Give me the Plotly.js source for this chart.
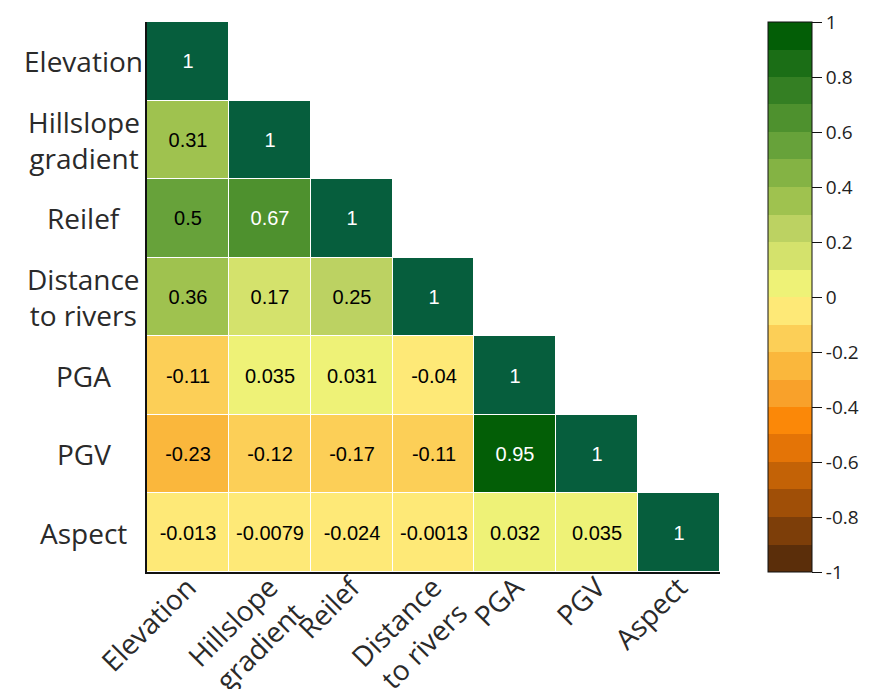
<!DOCTYPE html>
<html>
<head>
<meta charset="utf-8">
<script src="https://cdn.plot.ly/plotly-3.0.1.min.js"></script>
<style>
  html, body { margin: 0; padding: 0; background: #fff; }
  #chart { width: 872px; height: 689px; }
</style>
</head>
<body>
<div id="chart"></div>
<script>
// Factor names, shown top-to-bottom and left-to-right
const factors = ['Elevation', 'Hillslope gradient', 'Reilef', 'Distance to rivers', 'PGA', 'PGV', 'Aspect'];
const factorLabels = ['Elevation', 'Hillslope<br>gradient', 'Reilef', 'Distance<br>to rivers', 'PGA', 'PGV', 'Aspect'];

// Lower-triangle Pearson correlations, one row per factor
const rowElevation = [1];
const rowHillslope = [0.31, 1];
const rowRelief    = [0.5, 0.67, 1];
const rowDistance  = [0.36, 0.17, 0.25, 1];
const rowPGA       = [-0.11, 0.035, 0.031, -0.04, 1];
const rowPGV       = [-0.23, -0.12, -0.17, -0.11, 0.95, 1];
const rowAspect    = [-0.013, -0.0079, -0.024, -0.0013, 0.032, 0.035, 1];
const corrRows = [rowElevation, rowHillslope, rowRelief, rowDistance, rowPGA, rowPGV, rowAspect];

// Colorbar tick values
const cbTicks = [1, 0.8, 0.6, 0.4, 0.2, 0, -0.2, -0.4, -0.6, -0.8, -1];

// 20 stepped colours from -1 (brown) to +1 (dark green)
const stepColors = [
  '#5B2E0A', '#7D3E09', '#A04F07', '#C36206', '#E47406',
  '#FB8808', '#F9A12A', '#FAB73C', '#FCCF57', '#FEE977',
  '#EEF277', '#D4E26C', '#BCD262', '#9FC24F', '#84B344',
  '#67A23A', '#4E912E', '#347F23', '#1B6E16', '#035E06'
];
const diagColor = '#065E3D';

const n = factors.length;
const colorscale = [];
stepColors.forEach((c, i) => {
  colorscale.push([i / stepColors.length, c]);
  colorscale.push([(i + 1) / stepColors.length, c]);
});

// Pick white or black label text from the brightness of a cell's step colour
function labelFor(v) {
  const idx = Math.min(stepColors.length - 1, Math.floor((v + 1) / 2 * stepColors.length + 1e-9));
  const hex = stepColors[idx];
  const r = parseInt(hex.slice(1, 3), 16), g = parseInt(hex.slice(3, 5), 16), b = parseInt(hex.slice(5, 7), 16);
  const bright = (r * 299 + g * 587 + b * 114) / 1000;
  const s = String(v);
  return bright < 125 ? '<span style="fill:#ffffff">' + s + '</span>' : s;
}

// Split the matrix into off-diagonal and diagonal layers
const zOff = [], tOff = [], zDiag = [], tDiag = [];
for (let r = 0; r < n; r++) {
  const zo = [], to = [], zd = [], td = [];
  for (let c = 0; c < n; c++) {
    const v = c < corrRows[r].length ? corrRows[r][c] : null;
    if (c === r) {
      zo.push(null); to.push('');
      zd.push(v); td.push(String(v));
    } else {
      zo.push(v); to.push(v === null ? '' : labelFor(v));
      zd.push(null); td.push('');
    }
  }
  zOff.push(zo); tOff.push(to); zDiag.push(zd); tDiag.push(td);
}

const cellFont = { family: 'Liberation Sans, Arial, sans-serif', size: 20, color: '#000000' };
const labelFont = { family: 'Open Sans, sans-serif', size: 28, color: '#2a2a2a' };

const traces = [
  {
    type: 'heatmap',
    x: factors, y: factors, z: zOff,
    text: tOff, texttemplate: '%{text}', textfont: cellFont,
    zmin: -1, zmax: 1, colorscale: colorscale,
    xgap: 1, ygap: 1, hoverongaps: false,
    colorbar: {
      x: 1.0838, xanchor: 'left', xpad: 0,
      y: 0, yanchor: 'bottom', yref: 'paper', len: 1, lenmode: 'fraction', ypad: 0,
      thickness: 44, outlinecolor: '#111', outlinewidth: 1,
      tickmode: 'array', tickvals: cbTicks, ticktext: cbTicks.map(String),
      ticks: 'outside', ticklen: 10, tickwidth: 1, tickcolor: '#111',
      tickfont: { family: 'Open Sans, sans-serif', size: 19, color: '#222' }
    }
  },
  {
    type: 'heatmap',
    x: factors, y: factors, z: zDiag,
    text: tDiag, texttemplate: '%{text}',
    textfont: Object.assign({}, cellFont, { color: '#ffffff' }),
    zmin: 0, zmax: 1, colorscale: [[0, diagColor], [1, diagColor]],
    showscale: false, xgap: 1, ygap: 1, hoverongaps: false
  }
];

const annotations = factors.map((f, i) => ({
  xref: 'paper', yref: 'y', x: -0.11, y: f,
  text: factorLabels[i], showarrow: false,
  xanchor: 'center', yanchor: 'middle', align: 'center',
  font: labelFont
}));

const layout = {
  width: 872, height: 689,
  margin: { l: 147, r: 152, t: 22, b: 117 },
  paper_bgcolor: '#ffffff', plot_bgcolor: '#ffffff',
  xaxis: {
    type: 'category', tickmode: 'array', tickvals: factors, ticktext: factorLabels,
    tickangle: -45, tickfont: labelFont, ticks: '', ticklabelstandoff: -14,
    showline: true, linecolor: '#111', linewidth: 2,
    showgrid: false, zeroline: false, fixedrange: true
  },
  yaxis: {
    type: 'category', autorange: 'reversed', showticklabels: false, ticks: '',
    showline: true, linecolor: '#111', linewidth: 2,
    showgrid: false, zeroline: false, fixedrange: true
  },
  annotations: annotations,
  showlegend: false
};

Plotly.newPlot('chart', traces, layout, { displayModeBar: false, staticPlot: true });
</script>
</body>
</html>
